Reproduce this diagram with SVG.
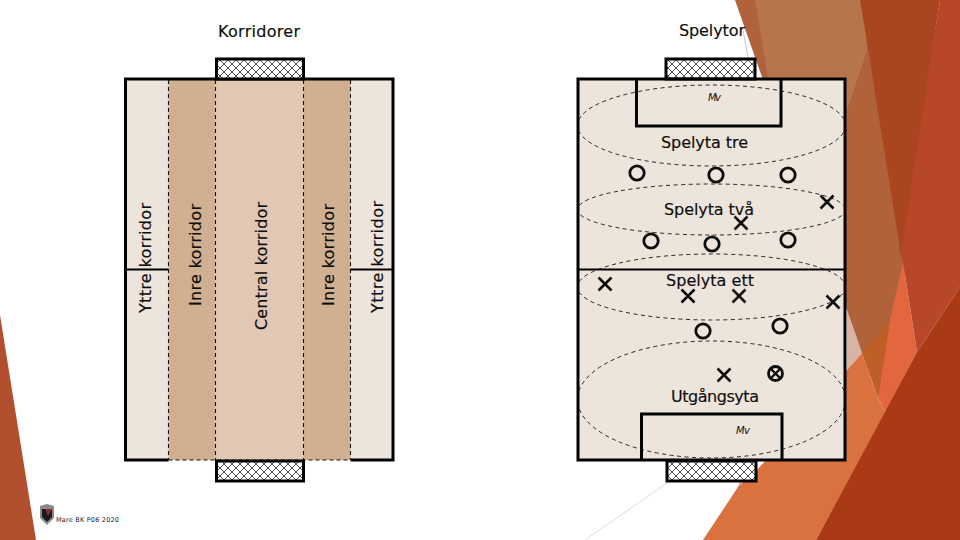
<svg xmlns="http://www.w3.org/2000/svg" width="960" height="540" viewBox="0 0 960 540">
<defs>
<pattern id="hatch" width="8" height="8" patternUnits="userSpaceOnUse" x="0" y="0">
<rect width="8" height="8" fill="#fff"/>
<path d="M0 0L8 8M8 0L0 8" stroke="#000" stroke-width="0.7" fill="none"/>
</pattern>
<g id="x"><path d="M-6.500 -6.500L6.500 6.500M6.500 -6.500L-6.500 6.500" fill="none" stroke="#0d0d0d" stroke-width="2.600"/></g>
<circle id="o" r="7.200" fill="none" stroke="#0d0d0d" stroke-width="2.800"/>
</defs>
<style>
.t{font-family:"DejaVu Sans","Liberation Sans",sans-serif;font-size:16px;fill:#0d0d0d;stroke:#0d0d0d;stroke-width:0.15}
.mv{font-family:"DejaVu Sans","Liberation Sans",sans-serif;font-size:10px;font-style:italic;fill:#111}
.b{fill:none;stroke:#000;stroke-width:3}
.m{fill:none;stroke:#000;stroke-width:2}
.d{fill:none;stroke:#111;stroke-width:1.100;stroke-dasharray:4 3}
.e{fill:none;stroke:#111;stroke-width:0.900;stroke-dasharray:4 3.500}
.g{fill:url(#hatch);stroke:#000;stroke-width:3}
</style>
<rect width="960" height="540" fill="#fff"/>
<g id="background">
<polygon points="0,315 36,540 0,540" fill="#b04e2e"/>
<polygon points="847,310 862,353 847,370" fill="#d9b3a4"/>
<polygon points="757,470 735,500 738,486 745,470" fill="#d9b3a4"/>
<polygon points="735,0 860,0 905,270 880,400 862,353 847,310 770,100" fill="#b0633a"/>
<polygon points="755,0 861,0 867,50 847,110 768,78" fill="#b7754e"/>
<polygon points="903,262 917,352 885,412 878,398 890,320" fill="#e2673f"/>
<polygon points="940,0 960,0 960,287 917,352 903,262 899,250" fill="#b8472a"/>
<polygon points="860,0 940,0 901,255" fill="#a9461f"/>
<polygon points="862,353 890,320 878,398" fill="#bd5f26"/>
<polygon points="862,353 878,398 885,412 816,540 703,540 738,487 757,470 847,370" fill="#d9723f"/>
<polygon points="960,287 960,540 816,540 917,352" fill="#aa3a15"/>
<path d="M667 483L585 540" stroke="#ddd" stroke-width="1" fill="none"/>
<path d="M743 30L748 58" stroke="#b9cdd8" stroke-width="1" fill="none"/>
</g>
<g id="titles">
<text class="t" x="218" y="37" textLength="82">Korridorer</text>
<text class="t" x="679" y="36" textLength="66">Spelytor</text>
</g>
<g id="korridorer">
<rect x="125.500" y="79" width="267.500" height="381" fill="#ede4db"/>
<rect x="168.500" y="79" width="47" height="381" fill="#d0b090"/>
<rect x="215.500" y="79" width="88" height="381" fill="#e0c8b4"/>
<rect x="303.500" y="79" width="47" height="381" fill="#d0b090"/>
<path class="m" d="M127 269.500H168.500M350.500 269.500H392"/>
<path class="b" d="M168.500 460H125.500V79H393V460H350.500"/>
<path class="d" d="M168.500 80V460M215.500 80V460M303.500 80V460M350.500 80V460M168.500 460H350.500"/>
<rect class="g" x="216.500" y="59" width="87" height="20"/>
<rect class="g" x="216.500" y="461" width="87" height="20"/>
<text class="t" transform="translate(150.500 313) rotate(-90)" textLength="110">Yttre korridor</text>
<text class="t" transform="translate(200.500 306) rotate(-90)" textLength="102">Inre korridor</text>
<text class="t" transform="translate(267 330) rotate(-90)" textLength="128">Central korridor</text>
<text class="t" transform="translate(334 306) rotate(-90)" textLength="102">Inre korridor</text>
<text class="t" transform="translate(382.500 313) rotate(-90)" textLength="112">Yttre korridor</text>
</g>
<g id="spelytor">
<rect x="578" y="79" width="267" height="381" fill="#ede4db"/>
<rect class="g" x="666" y="59" width="89" height="20"/>
<rect class="g" x="667" y="461" width="89" height="20"/>
<rect class="b" x="578" y="79" width="267" height="381"/>
<path class="b" d="M636.500 79V126H781V79"/>
<path class="b" d="M641.500 460V414H782V460"/>
<path class="m" d="M578 269.500H845"/>
<ellipse class="e" cx="711.500" cy="125.500" rx="134" ry="40.500"/>
<ellipse class="e" cx="711.500" cy="209.500" rx="134" ry="25.500"/>
<ellipse class="e" cx="711.500" cy="287" rx="134" ry="33"/>
<ellipse class="e" cx="711.500" cy="399.500" rx="134" ry="58.500"/>
<text class="mv" x="708" y="101" textLength="13">Mv</text>
<text class="mv" x="736" y="434" textLength="14">Mv</text>
<text class="t" x="661" y="148" textLength="87">Spelyta tre</text>
<text class="t" x="664" y="215" textLength="90">Spelyta två</text>
<text class="t" x="666" y="286" textLength="88">Spelyta ett</text>
<text class="t" x="671" y="402" textLength="88">Utgångsyta</text>
<use href="#o" x="637" y="173"/>
<use href="#o" x="716" y="175"/>
<use href="#o" x="788" y="175"/>
<use href="#o" x="651" y="241"/>
<use href="#o" x="712" y="244"/>
<use href="#o" x="788" y="240"/>
<use href="#o" x="703" y="331"/>
<use href="#o" x="780" y="326"/>
<use href="#x" x="827" y="202"/>
<use href="#x" x="741" y="223"/>
<use href="#x" x="605" y="284"/>
<use href="#x" x="688" y="296"/>
<use href="#x" x="739" y="296"/>
<use href="#x" x="833" y="302"/>
<use href="#x" x="724" y="375"/>
<g transform="translate(775.500 373.500)"><circle r="7" fill="none" stroke="#0d0d0d" stroke-width="2.800"/><path d="M-4.500 -4.500L4.500 4.500M4.500 -4.500L-4.500 4.500" stroke="#0d0d0d" stroke-width="2.400" fill="none"/></g>
</g>
<g id="footer">
<polygon points="40,506 47,504 54,506 54,518 47,525 40,518" fill="#8a8a8a"/>
<polygon points="42,509 52,509 52,517 47,522 42,517" fill="#1a1a1a"/>
<polygon points="45,509 52,509 48,516" fill="#8f2a35"/>
<text x="56" y="522" font-family="'DejaVu Sans','Liberation Sans',sans-serif" font-size="6.500" fill="#222" textLength="63">Mare BK P06 2020</text>
</g>
</svg>
